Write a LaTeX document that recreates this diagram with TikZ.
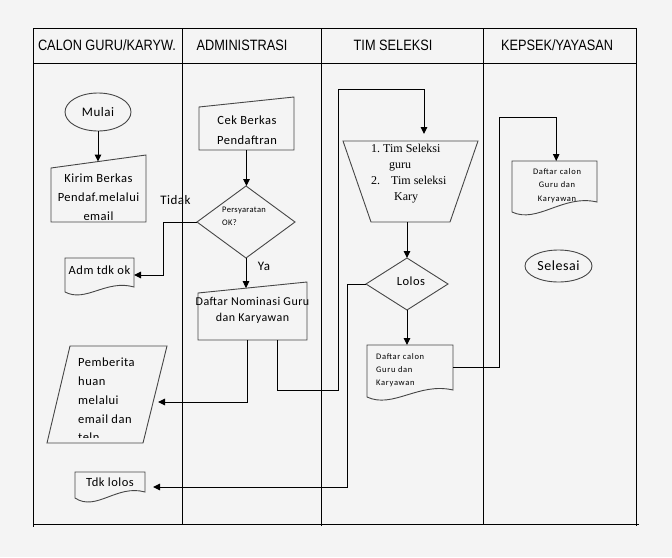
\documentclass[tikz,border=0pt]{standalone}
\usepackage{fontspec}
\setmainfont{Carlito}
\newfontfamily\hdrfont[FakeStretch=0.85]{Liberation Sans}
\newfontfamily\calfont[LetterSpace=4]{Carlito}
\newfontfamily\calsfont[LetterSpace=8]{Carlito}
\newfontfamily\tmsfont{Liberation Serif}
\usetikzlibrary{calc,arrows.meta,shapes.geometric}
\definecolor{bgc}{RGB}{244,244,244}
\definecolor{shpc}{RGB}{70,70,70}
\tikzset{
  tbl/.style={line width=1pt, draw=black},
  shp/.style={line width=0.9pt, draw=shpc},
  conn/.style={line width=1pt, draw=black},
  arr/.style={conn, -{Triangle[length=7pt,width=6.5pt]}},
  bx/.style 2 args={rectangle, inner sep=0pt, outer sep=0pt, draw=none, minimum width=#1, minimum height=#2},
  hdr/.style={inner sep=0pt, font=\hdrfont\fontsize{15}{18}\selectfont},
  lbl/.style={inner sep=0pt, font=\calfont\fontsize{12.5}{19}\selectfont, align=center},
  small/.style={inner sep=0pt, font=\calsfont\fontsize{8.5}{13}\selectfont, align=left},
  oval/.style={ellipse, shp, inner sep=0pt}
}
\newcommand\docshape[3]{\draw[shp] (#1.north west) -- (#1.north east) -- ($(#1.south east)+(0,-#2)$) .. controls ($(#1.south west)!0.6!(#1.south east)+(0,-#2-8)$) and ($(#1.south west)!0.3!(#1.south east)+(0,#3)$) .. (#1.south west) -- cycle;}
\newcommand\manualin[2]{\draw[shp] (#1.south west) -- ($(#1.north west)+(0,#2)$) -- (#1.north east) -- (#1.south east) -- cycle;}
\newcommand\diamondout[1]{\draw[shp] (#1.north) -- (#1.east) -- (#1.south) -- (#1.west) -- cycle;}
\begin{document}
\begin{tikzpicture}[x=1pt,y=-1pt]
\fill[bgc] (0,0) rectangle (672,557);
\useasboundingbox (0,0) rectangle (672,557);
% table
\draw[tbl] (33,28) rectangle (636,524);
\draw[tbl] (636,524) -- (639,524);
\draw[tbl] (33,63) -- (636,63);
\draw[tbl] (182,28) -- (182,524);
\draw[tbl] (321,28) -- (321,526);
\draw[tbl] (483,28) -- (483,524);
\draw[tbl] (33,524) -- (33,527);
\draw[tbl] (636,524) -- (636,526);
% headers
\node[hdr] (h1) at (107,45.5) {CALON GURU/KARYW.};
\node[hdr] (h2) at (242,45.5) {ADMINISTRASI};
\node[hdr] (h3) at (393,45.5) {TIM SELEKSI};
\node[hdr] (h4) at (557,45.5) {KEPSEK/YAYASAN};
% column 1
\node[oval, minimum width=66pt, minimum height=38pt, font=\calfont\fontsize{13}{16}\selectfont] (mulai) at (98,112) {Mulai};
\node[bx={95pt}{67pt}] (kirim) at (98.5,188.5) {};
\manualin{kirim}{13}
\coordinate (kirimTL) at ($(kirim.north west)+(0,13)$);
\coordinate (kirimIn) at ($(kirimTL)!0.495!(kirim.north east)$);
\node[lbl] (kirimt) at (98.5,197) {Kirim Berkas\\Pendaf.melalui\\email};
\draw[arr] (mulai.south) -- (mulai.south |- kirimIn);
\node[bx={69pt}{34pt}] (adm) at (99.5,275) {};
\docshape{adm}{5}{11}
\node[lbl] (admt) at (99.5,270) {Adm tdk ok};
\node[bx={120pt}{97pt}] (pemb) at (107,394.5) {};
\draw[shp] (pemb.south west) -- ($(pemb.north west)+(23,0)$) -- (pemb.north east) -- ($(pemb.south east)+(-24,0)$) -- cycle;
\begin{scope}
\clip (40,340) rectangle (170,437);
\node[lbl, align=left, anchor=west, font=\calfont\fontsize{12.5}{18.75}\selectfont] (pembt) at (78,400) {Pemberita\\huan\\melalui\\email dan\\teln};
\end{scope}
\node[bx={70pt}{26pt}] (tdk) at (110,485) {};
\docshape{tdk}{6}{14}
\node[lbl] (tdkt) at (110,482) {Tdk lolos};
% column 2
\node[bx={95pt}{53pt}] (cek) at (246.5,123.5) {};
\manualin{cek}{10}
\node[lbl, font=\calfont\fontsize{12.5}{20}\selectfont] (cekt) at (247,130) {Cek Berkas\\Pendaftran};
\node[bx={98pt}{72pt}] (persy) at (246,222) {};
\diamondout{persy}
\node[inner sep=0pt, align=left, anchor=west, font=\calfont\fontsize{8.5}{13}\selectfont] (persyt) at (222,216.5) {Persyaratan\\OK?};
\draw[arr] (cek.south) -- (cek.south |- persy.north);
\node[lbl, font=\calfont\fontsize{13}{16}\selectfont] (tidak) at (175.5,200) {Tidak};
\draw[arr] (persy.west) -- ++(-34,0) |- (adm.east);
\node[bx={109pt}{58pt}] (daftar) at (252.5,311) {};
\manualin{daftar}{11}
\coordinate (daftarTL) at ($(daftar.north west)+(0,11)$);
\coordinate (dTop) at ($(daftarTL)!0.44!(daftar.north east)$);
\node[lbl, font=\calfont\fontsize{12}{16}\selectfont] (daftart) at (252.5,310) {Daftar Nominasi Guru\\dan Karyawan};
\draw[arr] (persy.south) -- (persy.south |- dTop);
\node[lbl, font=\calfont\fontsize{13}{16}\selectfont] (ya) at (264,266) {Ya};
\coordinate (dB1) at ($(daftar.south west)!0.45!(daftar.south east)$);
\coordinate (dB2) at ($(daftar.south west)!0.725!(daftar.south east)$);
\coordinate (pembIn) at (158,402);
\draw[arr] (dB1) |- (pembIn);
% column 3
\node[bx={135pt}{81pt}] (trap) at (410.5,181.5) {};
\draw[shp] (trap.north west) -- (trap.north east) -- ($(trap.south east)+(-28,0)$) -- ($(trap.south west)+(28,0)$) -- cycle;
\node[inner sep=0pt, anchor=west, align=left, font=\tmsfont\fontsize{12}{16}\selectfont] (trapt) at (371,174) {1.\ Tim Seleksi\\\hspace*{18pt}guru\\2.\hspace*{11pt}Tim seleksi\\\hspace*{23pt}Kary};
\coordinate (trapIn) at ($(trap.north west)!0.6!(trap.north east)$);
\coordinate (b1) at (338,390);
\coordinate (b2) at (338,89);
\draw[arr, shorten >=7pt] (dB2) |- (b1) -- (b2) -| (trapIn);
\node[bx={82pt}{52pt}] (lolos) at (407,284) {};
\diamondout{lolos}
\node[lbl] (lolost) at (411,281) {Lolos};
\draw[arr] (trap.south -| lolos.north) -- (lolos.north);
\node[bx={86pt}{52pt}] (dc) at (410,371) {};
\docshape{dc}{7}{12}
\node[small, anchor=west] (dct) at (376,370.5) {Daftar calon\\Guru dan\\Karyawan};
\draw[arr] (lolos.south) -- (lolos.south |- dc.north);
\coordinate (tdkIn) at (153,487);
\draw[arr] (lolos.west) -- ++(-19,0) |- (tdkIn);
% column 4
\node[bx={85pt}{51pt}] (kd) at (554.5,186.5) {};
\docshape{kd}{10}{12}
\node[small, align=center, font=\calsfont\fontsize{8.5}{13.5}\selectfont] (kdt) at (557,185.5) {Daftar calon\\Guru dan\\Karyawan};
\coordinate (dcR) at ($(dc.east)+(0,-4)$);
\coordinate (b3) at (499,117);
\coordinate (kdIn) at ($(kd.north west)!0.52!(kd.north east)$);
\draw[arr] (dcR) -| (b3) -| (kdIn);
\node[oval, minimum width=67pt, minimum height=32pt, font=\calfont\fontsize{14}{16}\selectfont] (selesai) at (558.5,266) {Selesai};
\end{tikzpicture}
\end{document}
